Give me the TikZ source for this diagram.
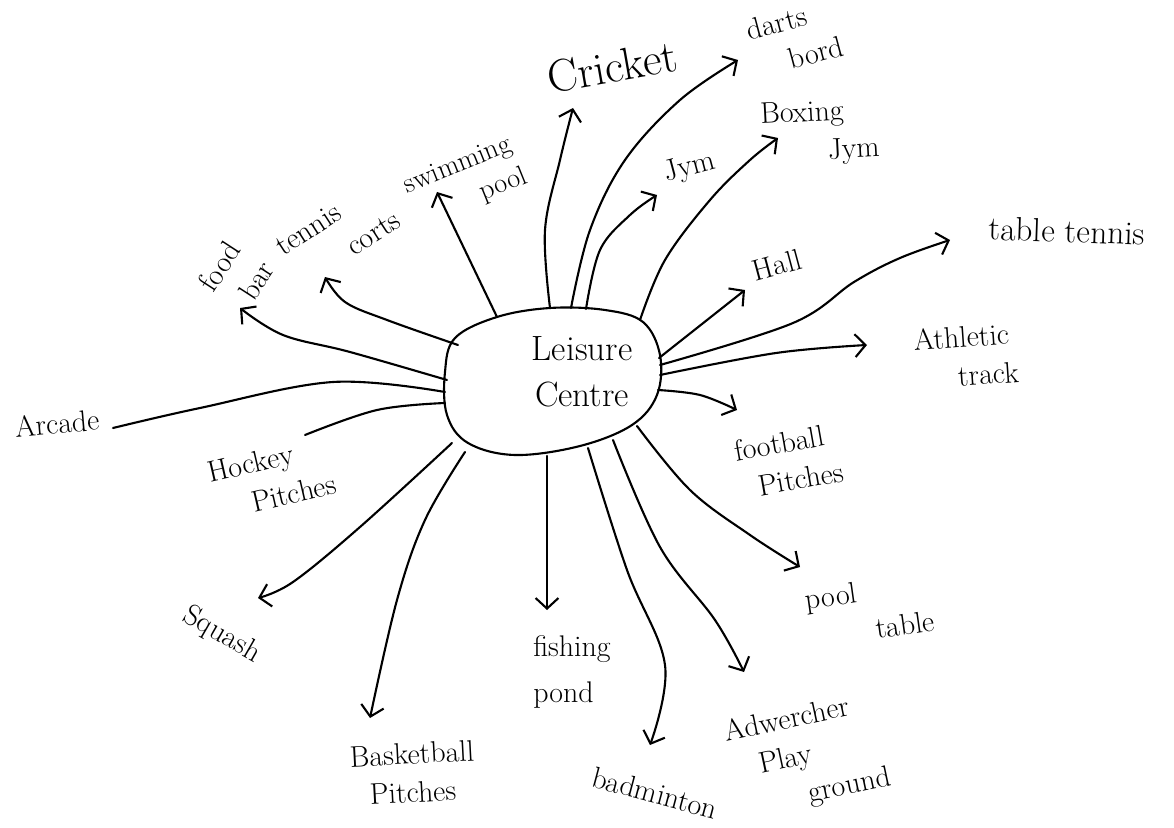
\documentclass[tikz,border=0pt]{standalone}
\usetikzlibrary{arrows.meta}
\begin{document}
\begin{tikzpicture}[x=0.02cm,y=-0.02cm,
  conn/.style={line width=1.2pt, line cap=round, line join=round},
  arr/.style={conn, -{Straight Barb[length=6pt,width=13pt]}},
  lbl/.style={font=\fontsize{17}{22}\selectfont, inner sep=0pt, align=left},
  blob/.style={line width=1.2pt}]
\useasboundingbox (0,0) rectangle (1174,828);

% central blob
\draw[blob] plot[smooth cycle, tension=0.6] coordinates {(455,338) (497,317) (550,308) (605,310) (643,322) (660,355) (657,395) (632,425) (580,446) (515,455) (468,443) (447,415) (445,372)};
\node[font=\fontsize{20}{26}\selectfont, align=center] (centre) at (582,372) {Leisure\\Centre};

% labels
\node[lbl, rotate=10, font=\fontsize{26}{28}\selectfont] (cricket) at (612,67) {Cricket};
\node[lbl, rotate=15] (darts) at (795,38) {darts\\\hspace{1.1em}bord};
\node[lbl, rotate=3] (boxing) at (820,133) {Boxing\\\hspace{2.2em}Jym};
\node[lbl, rotate=15] (jym) at (690,168) {Jym};
\node[lbl, rotate=22, font=\fontsize{16}{20}\selectfont] (swim) at (466,182) {swimming\\\hspace{2.4em}pool};
\node[lbl, rotate=57] (food) at (236,276) {food\\\hspace{0.5em}bar};
\node[lbl, rotate=33] (tennis) at (338,233) {tennis\\\hspace{2em}corts};
\node[lbl, rotate=15] (hall) at (777,265) {Hall};
\node[lbl, rotate=-2, font=\fontsize{19}{22}\selectfont] (tt) at (1067,231) {table tennis};
\node[lbl, rotate=4] (ath) at (966,356) {Athletic\\\hspace{1.4em}track};
\node[lbl, rotate=10] (foot) at (789,461) {football\\\hspace{0.6em}Pitches};
\node[lbl, rotate=8] (poolt) at (870,610) {pool\\\hspace{2.2em}table};
\node[lbl, rotate=12] (adv) at (808,756) {Adwercher\\\hspace{0.9em}Play\\\hspace{2.3em}ground};
\node[lbl, rotate=-15] (bad) at (655,793) {badminton};
\node[lbl, font=\fontsize{17}{26}\selectfont] (fish) at (572,672) {fishing\\pond};
\node[lbl, rotate=3] (bask) at (413,773) {Basketball\\\hspace{0.6em}Pitches};
\node[lbl, rotate=13] (hockey) at (272,478) {Hockey\\\hspace{1.2em}Pitches};
\node[lbl, rotate=-30] (squash) at (222,635) {Squash};
\node[lbl, rotate=5] (arcade) at (57,423) {Arcade};

% connector end points
\coordinate (sSwim) at (497,317);  \coordinate (eSwim) at (437,192);
\coordinate (sCorts) at (458,345); \coordinate (eCorts) at (325,277);
\coordinate (sFood) at (447,380);  \coordinate (eFood) at (240,308);
\coordinate (sArc) at (445,392);   \coordinate (eArc) at (113,428);
\coordinate (sHock) at (445,403);  \coordinate (eHock) at (305,435);
\coordinate (sSq) at (452,443);    \coordinate (eSq) at (258,598);
\coordinate (sBask) at (465,452);  \coordinate (eBask) at (370,718);
\coordinate (sFish) at (547,456);  \coordinate (eFish) at (547,610);
\coordinate (sBad) at (588,448);   \coordinate (eBad) at (650,745);
\coordinate (sAdv) at (613,440);   \coordinate (eAdv) at (744,672);
\coordinate (sPool) at (637,426);  \coordinate (ePool) at (800,567);
\coordinate (sFoot) at (658,390);  \coordinate (eFoot) at (737,410);
\coordinate (sAth) at (660,375);   \coordinate (eAth) at (867,345);
\coordinate (sTT) at (660,365);    \coordinate (eTT) at (950,240);
\coordinate (sHall) at (659,358);  \coordinate (eHall) at (745,290);
\coordinate (sBox) at (640,320);   \coordinate (eBox) at (778,138);
\coordinate (sJym) at (586,309);   \coordinate (eJym) at (657,195);
\coordinate (sDarts) at (571,308); \coordinate (eDarts) at (738,60);
\coordinate (sCrick) at (550,308); \coordinate (eCrick) at (573,108);

% connectors
\draw[arr] (sSwim) -- (eSwim);
\draw[arr] plot[smooth, tension=0.6] coordinates {(sCorts) (387,320) (345,302) (eCorts)};
\draw[arr] plot[smooth, tension=0.6] coordinates {(sFood) (350,352) (283,335) (eFood)};
\draw[conn] plot[smooth, tension=0.6] coordinates {(sArc) (333,382) (200,408) (eArc)};
\draw[conn] plot[smooth, tension=0.6] coordinates {(sHock) (377,410) (eHock)};
\draw[arr] plot[smooth, tension=0.6] coordinates {(sSq) (360,527) (293,582) (eSq)};
\draw[arr] plot[smooth, tension=0.6] coordinates {(sBask) (425,520) (397,600) (eBask)};
\draw[arr] (sFish) -- (eFish);
\draw[arr] plot[smooth, tension=0.6] coordinates {(sBad) (627,570) (665,665) (eBad)};
\draw[arr] plot[smooth, tension=0.6] coordinates {(sAdv) (660,547) (715,620) (eAdv)};
\draw[arr] plot[smooth, tension=0.6] coordinates {(sPool) (690,490) (750,535) (ePool)};
\draw[arr] plot[smooth, tension=0.6] coordinates {(sFoot) (700,395) (eFoot)};
\draw[arr] plot[smooth, tension=0.6] coordinates {(sAth) (776,353) (eAth)};
\draw[arr] plot[smooth, tension=0.6] coordinates {(sTT) (793,323) (854,282) (900,258) (eTT)};
\draw[arr] (sHall) -- (eHall);
\draw[arr] plot[smooth, tension=0.6] coordinates {(sBox) (665,260) (710,200) (750,160) (eBox)};
\draw[arr] plot[smooth, tension=0.6] coordinates {(sJym) (600,250) (630,215) (eJym)};
\draw[arr] plot[smooth, tension=0.6] coordinates {(sDarts) (590,230) (625,160) (680,100) (eDarts)};
\draw[arr] plot[smooth, tension=0.6] coordinates {(sCrick) (545,230) (560,160) (eCrick)};
\end{tikzpicture}
\end{document}
